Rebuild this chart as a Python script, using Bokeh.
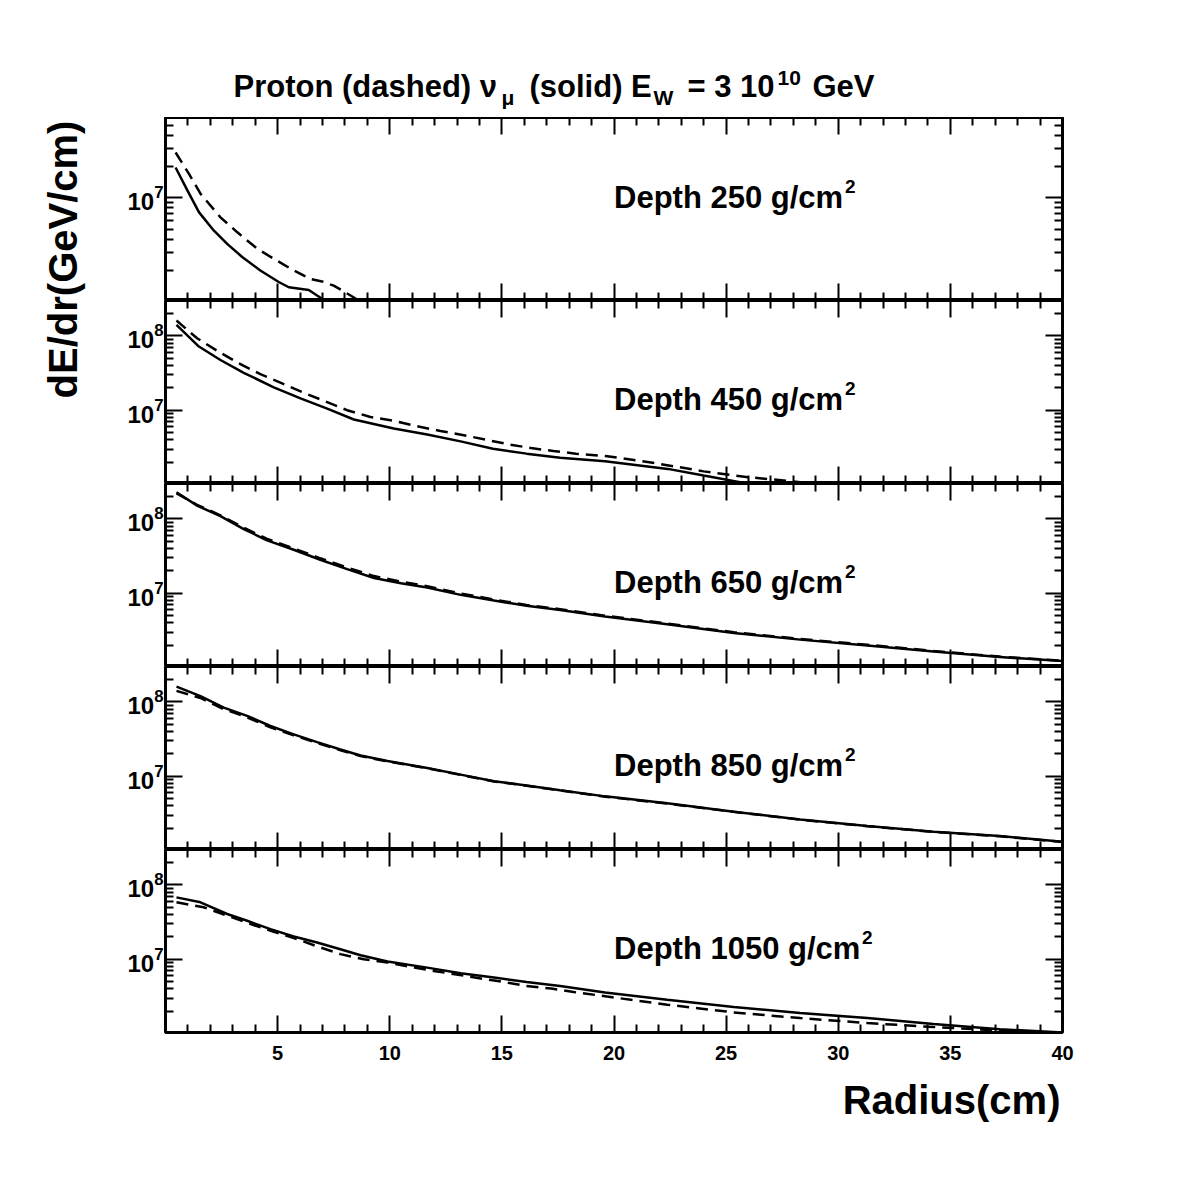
from math import pi

from bokeh.embed import file_html
from bokeh.layouts import column, row
from bokeh.models import (
    CustomJSTickFormatter,
    FixedTicker,
    Label,
    LinearAxis,
    LogAxis,
    Range1d,
)
from bokeh.plotting import figure
from bokeh.resources import INLINE

# Depth 250 g/cm2
d250_solid_x = [0.45, 0.97, 1.49, 2.15, 2.75, 3.42, 4.23, 5.05, 5.5, 6.39, 6.98, 7.3]
d250_solid_y = [1.97e7, 1.19e7, 7.3e6, 4.85e6, 3.6e6, 2.69e6, 1.99e6, 1.54e6, 1.37e6, 1.29e6, 1.06e6, 0.9e6]
d250_dash_x = [0.45, 1.04, 1.56, 2.45, 3.19, 4.09, 4.83, 5.72, 6.46, 6.98, 7.5, 7.95, 8.4, 8.9]
d250_dash_y = [2.75e7, 1.72e7, 1.1e7, 6.5e6, 4.68e6, 3.23e6, 2.58e6, 1.99e6, 1.65e6, 1.56e6, 1.42e6, 1.25e6, 1.09e6, 0.93e6]

# Depth 450 g/cm2
d450_solid_x = [0.49, 1.49, 2.45, 3.49, 4.83, 6.02, 7.21, 8.4, 10.18, 11.67, 13.16, 14.6, 16.1, 17.6, 19.6, 22.4, 24.0, 25.8, 26.5]
d450_solid_y = [1.41e8, 7.2e7, 4.74e7, 3.19e7, 2.03e7, 1.44e7, 1.05e7, 7.5e6, 5.66e6, 4.7e6, 3.8e6, 3.03e6, 2.6e6, 2.29e6, 2.05e6, 1.62e6, 1.32e6, 1.05e6, 0.95e6]
d450_dash_x = [0.49, 1.41, 2.38, 3.27, 4.23, 5.2, 6.17, 7.06, 8.1, 9.14, 10.18, 11.2, 12.26, 13.3, 14.3, 15.3, 16.3, 17.3, 18.3, 19.7, 22.0, 24.0, 26.0, 28.0, 29.6]
d450_dash_y = [1.61e8, 9.3e7, 6.1e7, 4.28e7, 3.06e7, 2.29e7, 1.71e7, 1.34e7, 1.0e7, 8.1e6, 7.2e6, 6.1e6, 5.25e6, 4.6e6, 4.0e6, 3.47e6, 3.09e6, 2.82e6, 2.6e6, 2.4e6, 1.9e6, 1.5e6, 1.25e6, 1.1e6, 0.97e6]

# Depth 650 g/cm2
d650_x = [0.49, 1.41, 2.45, 3.49, 4.53, 5.72, 6.9, 8.1, 9.3, 10.5, 11.67, 13.16, 14.65, 16.1, 17.6, 19.6, 22.37, 25.34, 28.3, 31.3, 34.25, 37.2, 40.0]
d650_solid_y = [2.29e8, 1.51e8, 1.09e8, 7.3e7, 5.15e7, 3.85e7, 2.82e7, 2.11e7, 1.6e7, 1.36e7, 1.19e7, 9.5e6, 7.95e6, 6.76e6, 5.95e6, 4.87e6, 3.81e6, 2.91e6, 2.37e6, 1.98e6, 1.64e6, 1.38e6, 1.22e6]
d650_dash_y = [2.2e8, 1.55e8, 1.12e8, 7.6e7, 5.4e7, 4.0e7, 2.95e7, 2.22e7, 1.7e7, 1.43e7, 1.24e7, 9.9e6, 8.2e6, 6.95e6, 6.1e6, 4.98e6, 3.9e6, 2.98e6, 2.42e6, 2.02e6, 1.67e6, 1.4e6, 1.23e6]

# Depth 850 g/cm2
d850_x = [0.49, 1.56, 2.6, 3.64, 4.68, 5.72, 6.76, 7.8, 8.7, 9.9, 11.67, 13.16, 14.65, 16.1, 17.6, 19.6, 22.37, 25.34, 28.3, 31.3, 34.25, 37.2, 40.0]
d850_solid_y = [1.61e8, 1.2e8, 8.4e7, 6.5e7, 4.74e7, 3.66e7, 2.88e7, 2.29e7, 1.9e7, 1.6e7, 1.29e7, 1.05e7, 8.55e6, 7.5e6, 6.46e6, 5.35e6, 4.31e6, 3.33e6, 2.62e6, 2.13e6, 1.79e6, 1.56e6, 1.31e6]
d850_dash_y = [1.41e8, 1.13e8, 8.0e7, 6.2e7, 4.55e7, 3.55e7, 2.8e7, 2.24e7, 1.87e7, 1.58e7, 1.28e7, 1.04e7, 8.5e6, 7.45e6, 6.42e6, 5.3e6, 4.28e6, 3.31e6, 2.6e6, 2.12e6, 1.78e6, 1.55e6, 1.3e6]

# Depth 1050 g/cm2
d1050_solid_x = [0.49, 1.56, 2.75, 3.64, 4.68, 5.72, 6.76, 7.8, 8.7, 9.9, 11.67, 13.16, 14.65, 16.1, 17.6, 19.6, 22.37, 25.34, 28.3, 31.3, 34.25, 37.2, 40.0]
d1050_solid_y = [6.8e7, 5.84e7, 4.06e7, 3.29e7, 2.54e7, 2.02e7, 1.68e7, 1.36e7, 1.13e7, 9.3e6, 7.7e6, 6.46e6, 5.66e6, 4.93e6, 4.35e6, 3.57e6, 2.85e6, 2.27e6, 1.88e6, 1.61e6, 1.34e6, 1.14e6, 1.03e6]
d1050_dash_x = [0.49, 1.7, 2.75, 3.8, 4.83, 5.87, 6.76, 7.8, 8.84, 9.9, 10.9, 11.96, 12.9, 14.06, 15.1, 16.1, 17.2, 18.2, 19.4, 22.37, 25.34, 28.3, 31.3, 34.25, 37.2, 39.3, 40.0]
d1050_dash_y = [5.84e7, 5.0e7, 3.86e7, 2.97e7, 2.34e7, 1.86e7, 1.49e7, 1.17e7, 1.0e7, 9.0e6, 7.87e6, 6.95e6, 6.27e6, 5.5e6, 4.93e6, 4.35e6, 4.02e6, 3.61e6, 3.23e6, 2.44e6, 1.92e6, 1.61e6, 1.38e6, 1.22e6, 1.1e6, 1.03e6, 1.0e6]

depths = ["250", "450", "650", "850", "1050"]

# tick positions
x_major = list(range(5, 41, 5))
x_minor = [v for v in range(1, 40) if v % 5]
y_major = [1e6, 1e7, 1e8]
y_minor = [m * 10.0 ** e for e in range(5, 9) for m in range(2, 10)]

FONT = "Liberation Sans"
FRAME_W, FRAME_H = 897, 183
LEFT, RIGHT = 57, 20
SIDE_W = 108
PANEL_W = LEFT + FRAME_W + RIGHT
TITLE_H, XTICK_H, XLAB_H = 117, 42, 60


def style_axis(ax, labels, size="19px", standoff=3):
    ax.axis_line_color = None
    ax.major_tick_in = 17
    ax.major_tick_out = 0
    ax.minor_tick_in = 8
    ax.minor_tick_out = 0
    ax.major_tick_line_width = 2
    ax.minor_tick_line_width = 2
    ax.major_tick_line_color = "black"
    ax.minor_tick_line_color = "black"
    ax.major_label_text_font = FONT
    ax.major_label_text_font_style = "bold"
    ax.major_label_text_color = "black"
    ax.major_label_text_font_size = size
    ax.major_label_standoff = standoff
    if not labels:
        ax.formatter = CustomJSTickFormatter(code="return ''")
        ax.major_label_text_font_size = "0px"
        ax.major_label_standoff = 0


def blank(width, height, x_span):
    # x_span: data width mapped onto the (column-aligned) frame
    f = figure(width=width, height=height, x_range=Range1d(0, x_span), y_range=Range1d(0, height),
               x_axis_location=None, y_axis_location=None, output_backend="svg",
               toolbar_location=None, min_border=0)
    f.grid.visible = False
    f.outline_line_color = None
    return f


def text_label(x, y, text, size, **kw):
    return Label(x=x, y=y, text=text, text_font=FONT, text_font_style="bold",
                 text_font_size=size, text_color="black", text_baseline="alphabetic", **kw)


def make_panel(sx, sy, dx, dy, depth, y_start, y_end, lift, last=False):
    p = figure(
        frame_width=FRAME_W, frame_height=FRAME_H,
        x_range=Range1d(0, 40), y_range=Range1d(y_start, y_end),
        y_axis_type="log", output_backend="svg", toolbar_location=None,
        min_border_left=LEFT, min_border_right=RIGHT,
        min_border_top=0, min_border_bottom=XTICK_H if last else 0,
    )
    p.grid.visible = False
    p.outline_line_color = "black"
    p.outline_line_width = 3
    p.add_layout(LinearAxis(), "above")
    p.add_layout(LogAxis(), "right")
    for ax in p.xaxis:
        ax.ticker = FixedTicker(ticks=x_major, minor_ticks=x_minor)
    for ax in p.yaxis:
        ax.ticker = FixedTicker(ticks=y_major, minor_ticks=y_minor)
    style_axis(p.below[0], last, size="20px", standoff=13)
    style_axis(p.above[0], False)
    style_axis(p.left[0], True, size="24px", standoff=2)
    style_axis(p.right[0], False)

    p.line(sx, sy, line_color="black", line_width=2.5)
    p.line(dx, dy, line_color="black", line_width=2.5, line_dash="12 7")

    main = f"Depth {depth} g/cm"
    p.add_layout(text_label(20, 1e7, main, "31px", y_offset=lift))
    p.add_layout(text_label(20, 1e7, "2", "19px", y_offset=lift + 11,
                            x_offset=231 + 17 * (len(depth) - 3)))
    return p


p1 = make_panel(d250_solid_x, d250_solid_y, d250_dash_x, d250_dash_y, depths[0], 1.02e6, 6.0e7, 0)
p2 = make_panel(d450_solid_x, d450_solid_y, d450_dash_x, d450_dash_y, depths[1], 1.03e6, 3.0e8, 11)
p3 = make_panel(d650_x, d650_solid_y, d650_x, d650_dash_y, depths[2], 1.03e6, 3.0e8, 11)
p4 = make_panel(d850_x, d850_solid_y, d850_x, d850_dash_y, depths[3], 1.03e6, 3.0e8, 11)
p5 = make_panel(d1050_solid_x, d1050_solid_y, d1050_dash_x, d1050_dash_y, depths[4], 1.03e6, 3.0e8, 11, last=True)

# title strip: pieces of "Proton (dashed) nu_mu (solid) E_W = 3 10^10 GeV"
title_fig = blank(PANEL_W, TITLE_H, FRAME_W)
title_parts = [
    ("Proton (dashed) \u03bd", 68, 31, "31px"),
    ("\u03bc", 336, 20.5, "21px"),
    ("(solid) E", 364, 31, "31px"),
    ("W", 488, 20.5, "21px"),
    ("= 3 10", 522, 31, "31px"),
    ("10", 612, 39.5, "21px"),
    ("GeV", 647, 31, "31px"),
]
for text, tx, ty, size in title_parts:
    title_fig.add_layout(text_label(tx, ty, text, size))

# x axis title strip
xlab_fig = blank(PANEL_W, XLAB_H, FRAME_W)
xlab_fig.add_layout(text_label(895, 35, "Radius(cm)", "40px", text_align="right"))

total_h = TITLE_H + 5 * FRAME_H + XTICK_H + XLAB_H
ylab = blank(SIDE_W, total_h, SIDE_W)
ylab.add_layout(Label(x=62, y=total_h - 259, text="dE/dr(GeV/cm)", angle=pi / 2,
                      text_font=FONT, text_font_style="bold", text_font_size="40px",
                      text_color="black", text_align="center", text_baseline="middle"))

layout = row(ylab, column(title_fig, p1, p2, p3, p4, p5, xlab_fig))

open("out.html", "w").write(file_html(layout, INLINE))
